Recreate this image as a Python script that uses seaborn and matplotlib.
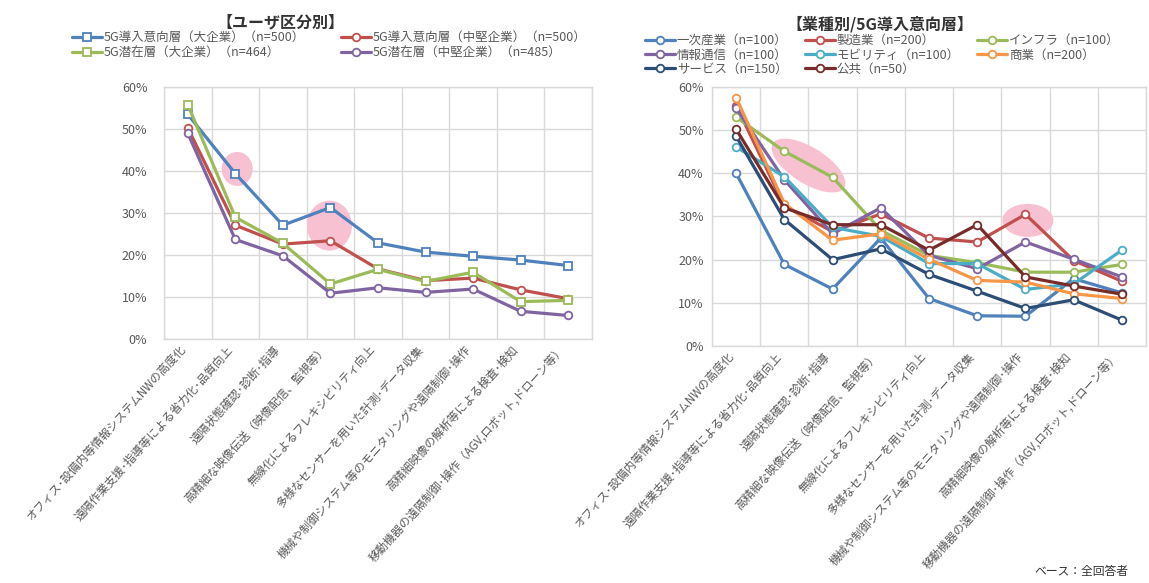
import matplotlib
matplotlib.use("Agg")
import matplotlib.pyplot as plt
from matplotlib.patches import Ellipse
from matplotlib.transforms import ScaledTranslation
from matplotlib.ticker import PercentFormatter, FixedLocator
from matplotlib.lines import Line2D
import pandas as pd
import seaborn as sns

categories = [
    "オフィス･設備内等情報システムNWの高度化",
    "遠隔作業支援･指導等による省力化･品質向上",
    "遠隔状態確認･診断･指導",
    "高精細な映像伝送（映像配信、監視等）",
    "無線化によるフレキシビリティ向上",
    "多様なセンサーを用いた計測･データ収集",
    "機械や制御システム等のモニタリングや遠隔制御･操作",
    "高精細映像の解析等による検査･検知",
    "移動機器の遠隔制御･操作（AGV,ロボット,ドローン等）",
]

# left chart: by user group
user_groups = [
    "5G導入意向層（大企業）（n=500）",
    "5G導入意向層（中堅企業）（n=500）",
    "5G潜在層（大企業）（n=464）",
    "5G潜在層（中堅企業）（n=485）",
]
intent_large = [53.5, 39.4, 27.1, 31.3, 22.9, 20.7, 19.7, 18.8, 17.5]
intent_mid = [50.3, 27.1, 22.6, 23.4, 16.7, 13.9, 14.5, 11.7, 9.6]
latent_large = [55.8, 29.0, 22.8, 13.1, 16.6, 13.7, 15.9, 8.9, 9.2]
latent_mid = [49.0, 23.7, 19.8, 10.9, 12.2, 11.1, 11.9, 6.6, 5.6]
user_values = [intent_large, intent_mid, latent_large, latent_mid]
user_colors = ["#4F81BD", "#C0504D", "#9BBB59", "#8064A2"]
user_markers = ["s", "o", "s", "o"]

# right chart: by industry
industries = [
    "一次産業（n=100）", "製造業（n=200）", "インフラ（n=100）",
    "情報通信（n=100）", "モビリティ（n=100）", "商業（n=200）",
    "サービス（n=150）", "公共（n=50）",
]
primary = [40.0, 18.9, 13.2, 25.0, 11.0, 7.0, 6.9, 15.6, 12.3]
manufacturing = [55.7, 32.5, 26.5, 30.6, 25.0, 24.1, 30.5, 19.8, 15.0]
infrastructure = [53.0, 45.1, 39.1, 26.8, 21.0, 19.3, 17.1, 17.1, 18.9]
ict = [55.1, 38.5, 26.0, 32.0, 21.0, 17.9, 24.1, 20.1, 16.0]
mobility = [46.1, 39.2, 27.5, 25.4, 19.1, 19.1, 13.1, 14.4, 22.2]
commerce = [57.5, 33.0, 24.5, 26.0, 20.1, 15.2, 14.8, 12.1, 11.0]
service = [48.6, 29.3, 20.0, 22.5, 16.6, 12.7, 8.7, 10.7, 6.0]
public = [50.2, 32.0, 28.1, 28.1, 22.2, 28.1, 16.0, 13.9, 12.0]
industry_values = [primary, manufacturing, infrastructure, ict,
                   mobility, commerce, service, public]
industry_colors = ["#4F81BD", "#C0504D", "#9BBB59", "#8064A2",
                   "#4BACC6", "#F79646", "#2C4D75", "#772C2A"]

sns.set_style("white")
plt.rcParams["font.family"] = ["Noto Sans CJK JP", "DejaVu Sans"]

fig = plt.figure(figsize=(11.49, 5.83), dpi=100)
ax1 = fig.add_axes([0.1427, 0.4185, 0.3725, 0.4322])
ax2 = fig.add_axes([0.6197, 0.4065, 0.3777, 0.4443])

grid_c = "#D9D9D9"
text_c = "#595959"
pink = "#F7C1D2"


def draw(ax, names, values, colors, markers):
    for name, vals, c, m in zip(names, values, colors, markers):
        df = pd.DataFrame({"pos": range(len(categories)), "value": vals})
        sns.lineplot(data=df, x="pos", y="value", ax=ax, color=c, lw=2.3,
                     marker=m, markersize=5.5, mfc="white", mec=c, mew=1.3,
                     zorder=3, legend=False)


def style(ax, ypad):
    ax.set_xlim(-0.5, len(categories) - 0.5)
    ax.set_ylim(0, 60)
    ax.yaxis.set_major_locator(FixedLocator([0, 10, 20, 30, 40, 50, 60]))
    ax.yaxis.set_major_formatter(PercentFormatter(xmax=100, decimals=0))
    ax.xaxis.set_minor_locator(FixedLocator([i - 0.5 for i in range(len(categories) + 1)]))
    ax.set_xticks(range(len(categories)))
    ax.set_xticklabels(categories, rotation=48, ha="right", fontsize=8.3, color=text_c)
    ax.tick_params(axis="x", which="both", length=0, pad=3)
    ax.tick_params(axis="y", length=0, pad=ypad, labelsize=9, labelcolor=text_c)
    ax.grid(False)
    ax.grid(axis="y", which="major", color=grid_c, lw=1)
    ax.grid(axis="x", which="minor", color=grid_c, lw=1)
    for s in ax.spines.values():
        s.set_color(grid_c)
        s.set_linewidth(1)
    ax.set_xlabel("")
    ax.set_ylabel("")


def highlight(ax, x, y, w_px, h_px, angle=0):
    tr = fig.dpi_scale_trans + ScaledTranslation(x, y, ax.transData)
    ax.add_patch(Ellipse((0, 0), w_px / 100, h_px / 100, angle=angle,
                         transform=tr, color=pink, lw=0, zorder=2))


draw(ax1, user_groups, user_values, user_colors, user_markers)
style(ax1, 12)
highlight(ax1, 1.04, 40.5, 31, 34)
highlight(ax1, 2.98, 27.0, 45, 50)

draw(ax2, industries, industry_values, industry_colors, ["o"] * len(industries))
style(ax2, 6)
highlight(ax2, 1.5, 41.8, 84, 36, angle=-32)
highlight(ax2, 6.05, 29.1, 51, 33)

# titles
fig.text(0.244, 0.975, "【ユーザ区分別】", ha="center", va="top",
         fontsize=11.5, fontweight="bold", color="#333333")
fig.text(0.766, 0.972, "【業種別/5G導入意向層】", ha="center", va="top",
         fontsize=11.5, fontweight="bold", color="#333333")


def legend_handles(colors, markers):
    return [Line2D([], [], color=c, lw=2.3, marker=m, markersize=5.5,
                   mfc="white", mec=c, mew=1.3) for c, m in zip(colors, markers)]


# legends are filled row by row, matplotlib fills column by column
left_order = [0, 2, 1, 3]
right_order = [0, 3, 6, 1, 4, 7, 2, 5]
lh = legend_handles(user_colors, user_markers)
rh = legend_handles(industry_colors, ["o"] * len(industries))

fig.legend([lh[i] for i in left_order], [user_groups[i] for i in left_order],
           loc="upper left", bbox_to_anchor=(0.058, 0.955), ncol=2,
           frameon=False, fontsize=9, handlelength=2.4, handletextpad=0.15,
           labelspacing=0.2, columnspacing=2.9, borderaxespad=0,
           labelcolor=text_c)
fig.legend([rh[i] for i in right_order], [industries[i] for i in right_order],
           loc="upper left", bbox_to_anchor=(0.557, 0.95), ncol=3,
           frameon=False, fontsize=9, handlelength=2.4, handletextpad=0.15,
           labelspacing=0.1, columnspacing=1.4, borderaxespad=0,
           labelcolor=text_c)

fig.text(0.982, 0.008, "ベース：全回答者", ha="right", va="bottom",
         fontsize=8.5, color="#333333")

fig.savefig("out.png", dpi=100)
